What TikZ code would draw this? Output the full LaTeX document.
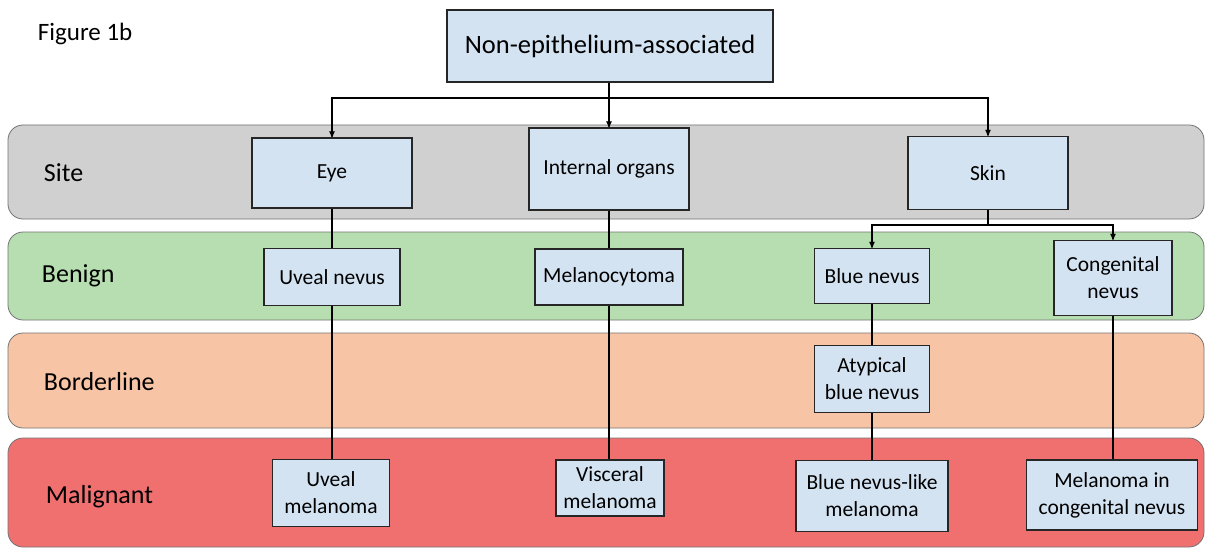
\documentclass[tikz,border=0pt]{standalone}
\usepackage{fontspec}
\setmainfont{Carlito}
\usepackage{tikz}
\usetikzlibrary{arrows,shapes,positioning}
\usepackage{xcolor}
\definecolor{boxblue}{HTML}{D4E3F2}
\definecolor{sitegray}{HTML}{D0D0D0}
\definecolor{benigngreen}{HTML}{B7DEB0}
\definecolor{borderpeach}{HTML}{F7C4A5}
\definecolor{malignred}{HTML}{F07070}

\begin{document}
\begin{tikzpicture}[x=1pt,y=-1pt,>=stealth',line width=1.2pt,
					box/.style={draw=black!85,fill=boxblue,align=center,inner sep=2pt,
						font=\fontsize{21.5}{27}\selectfont},
					band/.style={draw=black!55,line width=0.8pt,rounded corners=15pt},
					level/.style={anchor=west,font=\fontsize{26}{30}\selectfont}]
					
					\useasboundingbox (0,0) rectangle (1206,548);
					
					% bands
					\draw[band,fill=sitegray] (8,125) rectangle (1204,219);
					\draw[band,fill=benigngreen] (8,232) rectangle (1204,320);
					\draw[band,fill=borderpeach] (8,333) rectangle (1204,428);
					\draw[band,fill=malignred] (8,438) rectangle (1204,547);
					
					\node[anchor=west,font=\fontsize{25}{29}\selectfont] (fig) at (34,34) {Figure 1b};
					\node[level] (site) at (40,173) {Site};
					\node[level] (benign) at (38,276) {Benign};
					\node[level] (border) at (40,382) {Borderline};
					\node[level] (malig) at (42,497) {Malignant};
					
					\node[box,minimum width=326,minimum height=72,font=\fontsize{26.5}{30}\selectfont] (top) at (610,46) {Non-epithelium-associated};
					
					\node[box,minimum width=160,minimum height=70] (eye) at (332,173) {Eye};
					\node[box,minimum width=160,minimum height=82] (organs) at (609,169) {Internal organs};
					\node[box,minimum width=160,minimum height=73] (skin) at (988,173) {Skin};
					
					\node[box,minimum width=136,minimum height=57] (uvn) at (332,277) {Uveal nevus};
					\node[box,minimum width=148,minimum height=56] (mcyt) at (609,277) {Melanocytoma};
					\node[box,minimum width=115,minimum height=55] (bn) at (872,276) {Blue nevus};
					\node[box,minimum width=118,minimum height=75] (cn) at (1113,278) {Congenital\\nevus};
					
					\node[box,minimum width=115,minimum height=67] (abn) at (872,379) {Atypical\\blue nevus};
					
					\node[box,minimum width=117,minimum height=67] (uvm) at (331,493) {Uveal\\melanoma};
					\node[box,minimum width=108,minimum height=56] (vm) at (610,488) {Visceral\\melanoma};
					\node[box,minimum width=152,minimum height=71] (bnm) at (872,496) {Blue nevus-like\\melanoma};
					\node[box,minimum width=171,minimum height=70] (mcn) at (1112,495) {Melanoma in\\congenital nevus};
					
					\coordinate (j1) at (609,98);
					\coordinate (j2) at (988,225);
					
					\draw (top.south -| j1) -- (j1);
					\draw[->] (j1) -| (eye.north);
					\draw[->] (j1) -- (organs.north);
					\draw[->] (j1) -| (skin.north);
					\draw (skin.south) -- (j2);
					\draw[->] (j2) -| (bn.north);
					\draw[->] (j2) -| (cn.north);
					
					\path (eye) edge (uvn)
					(uvn) edge (uvn |- uvm.north)
					(organs) edge (mcyt)
					(mcyt) edge (mcyt |- vm.north)
					(bn) edge (abn)
					(abn) edge (bnm)
					(cn) edge (cn |- mcn.north);
					
				\end{tikzpicture}
\end{document}
